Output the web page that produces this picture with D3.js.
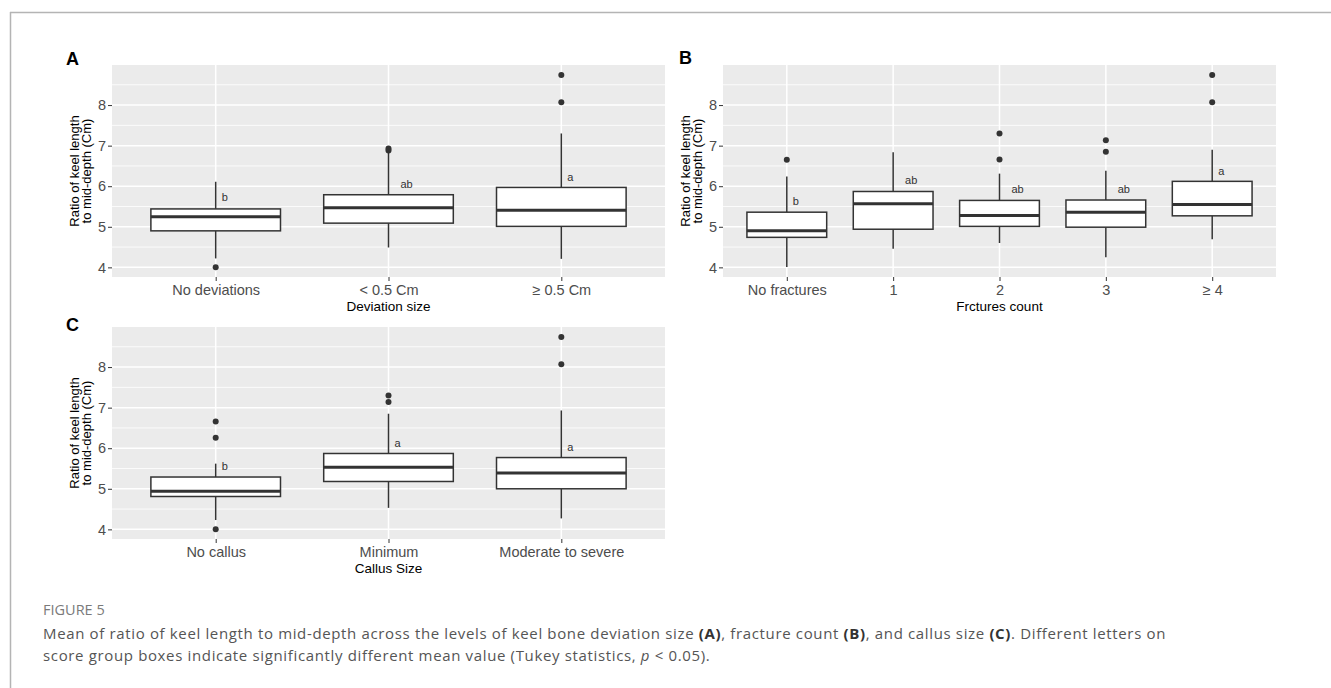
<!DOCTYPE html>
<html>
<head>
<meta charset="utf-8">
<script src="https://cdn.jsdelivr.net/npm/d3@7/dist/d3.min.js"></script>
<style>
  html, body { margin: 0; padding: 0; background: #fff; }
  svg { display: block; }
</style>
</head>
<body>
<svg id="chart" width="1331" height="688"></svg>
<script>
// ---------------- DATA ----------------
// Panel A: deviation size
const catsA = ["No deviations", "< 0.5 Cm", "≥ 0.5 Cm"];
// [lower whisker, Q1, median, Q3, upper whisker]
const boxesA = [
  [4.22, 4.90, 5.25, 5.44, 6.11],
  [4.49, 5.09, 5.47, 5.79, 6.82],
  [4.21, 5.01, 5.41, 5.97, 7.30]
];
const outliersA = [[4.00], [6.88, 6.93], [8.07, 8.74]];
const lettersA = ["b", "ab", "a"];
const letterYA = [5.72, 6.05, 6.23];
const xTitleA = "Deviation size";

// Panel B: fracture count
const catsB = ["No fractures", "1", "2", "3", "≥ 4"];
const boxesB = [
  [4.01, 4.74, 4.90, 5.36, 6.24],
  [4.46, 4.94, 5.57, 5.87, 6.84],
  [4.60, 5.01, 5.28, 5.65, 6.31],
  [4.25, 4.99, 5.36, 5.66, 6.38],
  [4.69, 5.27, 5.55, 6.12, 6.90]
];
const outliersB = [[6.65], [], [6.66, 7.30], [6.85, 7.13], [8.07, 8.74]];
const lettersB = ["b", "ab", "ab", "ab", "a"];
const letterYB = [5.63, 6.14, 5.92, 5.92, 6.38];
const xTitleB = "Frctures count";

// Panel C: callus size
const catsC = ["No callus", "Minimum", "Moderate to severe"];
const boxesC = [
  [4.23, 4.81, 4.94, 5.29, 5.62],
  [4.53, 5.18, 5.53, 5.87, 6.85],
  [4.27, 5.00, 5.39, 5.77, 6.93]
];
const outliersC = [[4.00, 6.26, 6.66], [7.14, 7.30], [8.07, 8.74]];
const lettersC = ["b", "a", "a"];
const letterYC = [5.56, 6.13, 6.03];
const xTitleC = "Callus Size";

const yTicks = [4, 5, 6, 7, 8];
const yMinor = [4.5, 5.5, 6.5, 7.5, 8.5];
const yDomain = [3.7625, 8.9875];
const yTitleLines = ["Ratio of keel length", "to mid-depth (Cm)"];

const captionLabel = "FIGURE 5";

// ---------------- DRAW ----------------
const svg = d3.select("#chart");

// page frame
svg.append("line").attr("x1", 10).attr("x2", 1331).attr("y1", 12.5).attr("y2", 12.5)
  .attr("stroke", "#b4b4b4").attr("stroke-width", 1.5);
svg.append("line").attr("x1", 10.5).attr("x2", 10.5).attr("y1", 12).attr("y2", 688)
  .attr("stroke", "#b4b4b4").attr("stroke-width", 1.5);

const FONT = "Liberation Sans, Arial, Helvetica, sans-serif";
const INK = "#333333";

function drawPanel(cfg) {
  const { x0, x1, y0, y1, cats, boxes, outliers, letters, letterY, xTitle, tag, tagX, tagY } = cfg;
  const g = svg.append("g");

  const x = d3.scalePoint().domain(cats).range([x0, x1]).padding(0.6);
  const y = d3.scaleLinear().domain(yDomain).range([y1, y0]);
  const bw = x.step() * 0.75;

  // panel background
  g.append("rect").attr("x", x0).attr("y", y0).attr("width", x1 - x0).attr("height", y1 - y0)
    .attr("fill", "#ebebeb");

  // minor grid
  g.selectAll(".minor").data(yMinor.filter(v => v > yDomain[0] && v < yDomain[1])).enter()
    .append("line").attr("x1", x0).attr("x2", x1)
    .attr("y1", d => y(d)).attr("y2", d => y(d))
    .attr("stroke", "#ffffff").attr("stroke-width", 0.8);
  // major grid
  g.selectAll(".major").data(yTicks).enter()
    .append("line").attr("x1", x0).attr("x2", x1)
    .attr("y1", d => y(d)).attr("y2", d => y(d))
    .attr("stroke", "#ffffff").attr("stroke-width", 1.5);
  g.selectAll(".vmajor").data(cats).enter()
    .append("line").attr("y1", y0).attr("y2", y1)
    .attr("x1", d => x(d)).attr("x2", d => x(d))
    .attr("stroke", "#ffffff").attr("stroke-width", 1.5);

  // boxes
  const bx = g.selectAll(".box").data(cats.map((c, i) => ({ c, b: boxes[i], o: outliers[i], l: letters[i], ly: letterY[i] })))
    .enter().append("g");
  // whiskers
  bx.append("line").attr("x1", d => x(d.c)).attr("x2", d => x(d.c))
    .attr("y1", d => y(d.b[3])).attr("y2", d => y(d.b[4]))
    .attr("stroke", INK).attr("stroke-width", 1.5);
  bx.append("line").attr("x1", d => x(d.c)).attr("x2", d => x(d.c))
    .attr("y1", d => y(d.b[1])).attr("y2", d => y(d.b[0]))
    .attr("stroke", INK).attr("stroke-width", 1.5);
  // box
  bx.append("rect").attr("x", d => x(d.c) - bw / 2).attr("width", bw)
    .attr("y", d => y(d.b[3])).attr("height", d => y(d.b[1]) - y(d.b[3]))
    .attr("fill", "#ffffff").attr("stroke", INK).attr("stroke-width", 1.5);
  // median
  bx.append("line").attr("x1", d => x(d.c) - bw / 2).attr("x2", d => x(d.c) + bw / 2)
    .attr("y1", d => y(d.b[2])).attr("y2", d => y(d.b[2]))
    .attr("stroke", INK).attr("stroke-width", 3);
  // outliers
  bx.each(function(d) {
    d3.select(this).selectAll("circle").data(d.o).enter().append("circle")
      .attr("cx", x(d.c)).attr("cy", v => y(v)).attr("r", 3).attr("fill", INK);
  });
  // letters
  bx.append("text").attr("x", d => x(d.c) + 9 * d.l.length).attr("y", d => y(d.ly))
    .attr("dy", "0.35em").attr("text-anchor", "middle")
    .attr("font-family", FONT).attr("font-size", 11).attr("fill", "#333")
    .text(d => d.l);

  // y axis
  const ya = g.append("g").attr("transform", `translate(${x0},0)`)
    .call(d3.axisLeft(y).tickValues(yTicks).tickSize(4).tickPadding(2).tickFormat(d3.format("d")));
  ya.select(".domain").remove();
  ya.selectAll(".tick line").attr("stroke", INK).attr("stroke-width", 1);
  ya.selectAll(".tick text").attr("font-family", FONT).attr("font-size", 14.5).attr("fill", "#4d4d4d");

  // x axis
  const xa = g.append("g").attr("transform", `translate(0,${y1})`)
    .call(d3.axisBottom(x).tickSize(4).tickPadding(4));
  xa.select(".domain").remove();
  xa.selectAll(".tick line").attr("stroke", INK).attr("stroke-width", 1);
  xa.selectAll(".tick text").attr("font-family", FONT).attr("font-size", 14.5).attr("fill", "#4d4d4d");

  // x title
  g.append("text").attr("x", (x0 + x1) / 2).attr("y", y1 + 34).attr("text-anchor", "middle")
    .attr("font-family", FONT).attr("font-size", 13.5).attr("fill", "#000").text(xTitle);

  // y title (two lines, rotated)
  const cy = (y0 + y1) / 2;
  yTitleLines.forEach((t, i) => {
    g.append("text")
      .attr("transform", `translate(${x0 - 33 + i * 12},${cy}) rotate(-90)`)
      .attr("text-anchor", "middle")
      .attr("font-family", FONT).attr("font-size", 13).attr("fill", "#000").text(t);
  });

  // panel tag
  g.append("text").attr("x", tagX).attr("y", tagY)
    .attr("font-family", FONT).attr("font-size", 18).attr("font-weight", "bold").attr("fill", "#000").text(tag);
}

drawPanel({ x0: 112, x1: 665, y0: 65, y1: 277, cats: catsA, boxes: boxesA, outliers: outliersA,
  letters: lettersA, letterY: letterYA, xTitle: xTitleA, tag: "A", tagX: 66, tagY: 65 });
drawPanel({ x0: 723, x1: 1276, y0: 65, y1: 277, cats: catsB, boxes: boxesB, outliers: outliersB,
  letters: lettersB, letterY: letterYB, xTitle: xTitleB, tag: "B", tagX: 679, tagY: 64 });
drawPanel({ x0: 112, x1: 665, y0: 327, y1: 539, cats: catsC, boxes: boxesC, outliers: outliersC,
  letters: lettersC, letterY: letterYC, xTitle: xTitleC, tag: "C", tagX: 66, tagY: 331 });

// caption
const CAPF = "'Open Sans', Lato, sans-serif";
svg.append("text").attr("x", 43).attr("y", 615)
  .attr("font-family", CAPF).attr("font-size", 14.5).attr("fill", "#7a7a7a").text(captionLabel);

const line1 = [
  ["Mean of ratio of keel length to mid-depth across the levels of keel bone deviation size ", "n"],
  ["(A)", "b"], [", fracture count ", "n"], ["(B)", "b"], [", and callus size ", "n"], ["(C)", "b"],
  [". Different letters on", "n"]
];
const line2 = [
  ["score group boxes indicate significantly different mean value (Tukey statistics, ", "n"],
  ["p", "i"], [" < 0.05).", "n"]
];
function capLine(parts, yy) {
  const t = svg.append("text").attr("x", 43).attr("y", yy)
    .attr("font-family", CAPF).attr("font-size", 15).attr("fill", "#555");
  parts.forEach(([s, st]) => {
    const ts = t.append("tspan").text(s);
    if (st === "b") ts.attr("font-weight", "bold").attr("fill", "#333");
    if (st === "i") ts.attr("font-style", "italic");
  });
  return t;
}
const c1 = capLine(line1, 639);
const c2 = capLine(line2, 661);
// fit the caption to the reference measure (first line width) via letter spacing
const w1 = c1.node().getComputedTextLength();
const nChars = line1.map(p => p[0]).join("").length;
const ls = Math.max(0, Math.min(0.8, (1123 - w1) / nChars));
c1.attr("letter-spacing", ls);
c2.attr("letter-spacing", ls);
</script>
</body>
</html>
